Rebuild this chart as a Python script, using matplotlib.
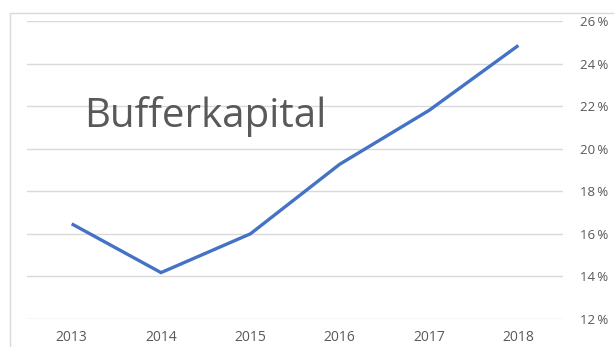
import matplotlib.pyplot as plt
from matplotlib.patches import Rectangle

years = ['2013', '2014', '2015', '2016', '2017', '2018']
buffer_pct = [16.47, 14.18, 16.0, 19.27, 21.8, 24.85]
y_ticks = [12, 14, 16, 18, 20, 22, 24, 26]

plt.rcParams['font.family'] = ['Open Sans', 'DejaVu Sans']
text_grey = '#595959'

fig = plt.figure(figsize=(6.14, 3.47), dpi=100)
ax = fig.add_axes([0.044, 0.0807, 0.873, 0.8588])

x = range(len(years))
ax.plot(x, buffer_pct, color='#4472C4', lw=2.4, solid_capstyle='butt', solid_joinstyle='miter')

ax.set_xlim(-0.5, len(years) - 0.5)
ax.set_ylim(12, 26)
ax.set_xticks(list(x))
ax.set_xticklabels(years)
ax.set_yticks(y_ticks)
ax.set_yticklabels([f'{v}\u2009%' for v in y_ticks])
ax.yaxis.tick_right()
ax.tick_params(axis='both', length=0, labelsize=10, labelcolor=text_grey)
ax.tick_params(axis='y', pad=12, labelsize=9.5)
ax.tick_params(axis='x', pad=8)
ax.grid(axis='y', color='#d9d9d9', lw=1)
ax.set_axisbelow(True)
for s in ax.spines.values():
    s.set_visible(False)

ax.text(0.107, 0.68, 'Bufferkapital', transform=ax.transAxes, fontsize=29,
        color=text_grey, va='center', ha='left')

# chart area border
fig.patches.append(Rectangle((9.5 / 614, -0.1), 1.2, 1.1 - 12.5 / 347,
                             transform=fig.transFigure, fill=False,
                             edgecolor='#d9d9d9', lw=1))

fig.savefig('out.png', dpi=100)
